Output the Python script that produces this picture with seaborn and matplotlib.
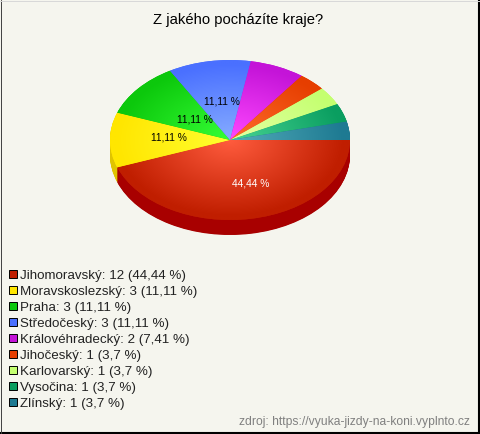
import numpy as np
import seaborn as sns
import matplotlib
matplotlib.use('Agg')
import matplotlib.pyplot as plt
from matplotlib.colors import LinearSegmentedColormap, to_rgb
from matplotlib.lines import Line2D
from matplotlib.patches import Patch

categories = ['Jihomoravský', 'Moravskoslezský', 'Praha', 'Středočeský', 'Královéhradecký',
              'Jihočeský', 'Karlovarský', 'Vysočina', 'Zlínský']
counts = [12, 3, 3, 3, 2, 1, 1, 1, 1]
percents = ['44,44', '11,11', '11,11', '11,11', '7,41', '3,7', '3,7', '3,7', '3,7']
edge_colors = ['#c01e00', '#ffe600', '#0cc80c', '#4a70ff', '#c414d8', '#e63e00', '#c4ff70', '#0a9e60', '#1e7a92']
centre_colors = ['#ff5c3e', '#ffff30', '#36ff36', '#86acff', '#ff48ff', '#ff6c2c', '#e4ffa4', '#48d494', '#54acba']

# pixel layout of the pie inside the 480x434 picture
W, H = 480, 434
CX, CY, RX, RY, DEPTH = 230, 140, 120, 80, 15
BG = '#f5f5ee'

sns.set_theme(style='white')
plt.rcParams['font.family'] = ['Liberation Sans', 'DejaVu Sans']

fig = plt.figure(figsize=(W / 100, H / 100), dpi=100, facecolor=BG)
ax = fig.add_axes([0, 0, 1, 1])
ax.set_facecolor(BG)

palette = sns.color_palette(edge_colors)
side_colors = [tuple(c * 0.87 for c in col) for col in palette]
side_colors[0] = to_rgb('#a80000')
side_colors[1] = to_rgb('#e0c400')
no_edge = {'linewidth': 0, 'edgecolor': 'none'}

# side of the pie: stacked copies moving down
for step in np.arange(DEPTH, 0, -0.5):
    ax.pie(counts, colors=side_colors, startangle=0, counterclock=False, center=(0, -step / RY),
           wedgeprops=no_edge)

wedges, _ = ax.pie(counts, colors=palette, startangle=0, counterclock=False, wedgeprops=no_edge)

# radial gradient on the top face
gx, gy = np.meshgrid(np.linspace(-1, 1, 300), np.linspace(-1, 1, 300))
dist = np.clip(np.hypot(gx, gy), 0, 1)
for wedge, light, dark in zip(wedges, centre_colors, palette):
    cmap = LinearSegmentedColormap.from_list('w', [light, dark])
    im = ax.imshow(dist, extent=(-1, 1, -1, 1), origin='lower', cmap=cmap, vmin=0, vmax=0.95,
                   aspect='auto', interpolation='bilinear', zorder=wedge.get_zorder() + 1)
    im.set_clip_path(wedge)

ax.set_aspect('auto')
ax.set_xlim(-CX / RX, (W - CX) / RX)
ax.set_ylim((CY - H) / RY, CY / RY)
ax.axis('off')

# slice labels, only the four largest slices have one
label_px = [(251, 183), (169, 137), (195, 119), (222, 102)]
label_colors = ['white', 'black', 'black', 'black']
for pct, (px, py), col in zip(percents, label_px, label_colors):
    ax.text((px - CX) / RX, (CY - py) / RY, f'{pct} %', color=col, fontsize=7.4,
            ha='center', va='center', zorder=20)

fig.text(238 / W, 1 - 20 / H, 'Z jakého pocházíte kraje?', ha='center', va='center', fontsize=10.6, color='black')
fig.text(470 / W, 1 - 422 / H, 'zdroj: https://vyuka-jizdy-na-koni.vyplnto.cz', ha='right', va='center',
         fontsize=8.7, color='#808080')

handles = [Patch(facecolor=c, edgecolor='black', linewidth=0.7) for c in palette]
labels = [f'{n}: {c} ({p} %)' for n, c, p in zip(categories, counts, percents)]
fig.legend(handles, labels, loc='upper left', bbox_to_anchor=(9 / W, 1 - 269.5 / H), frameon=False,
           fontsize=9.6, handlelength=0.62, handleheight=0.62, handletextpad=0.18,
           labelspacing=0.3, borderpad=0, borderaxespad=0, labelcolor='#222222')

# picture frame: heavy on the right and bottom, thin on the left, faint on top
fig.add_artist(Line2D([479 / W, 479 / W], [0, 1], color='black', linewidth=1.5))
fig.add_artist(Line2D([0, 1], [1 / H, 1 / H], color='black', linewidth=1.5))
fig.add_artist(Line2D([0.5 / W, 0.5 / W], [0, 1], color='#404040', linewidth=0.7))
fig.add_artist(Line2D([0, 1], [1 - 0.5 / H, 1 - 0.5 / H], color='#d8d8d8', linewidth=0.7))

fig.savefig('out.png', dpi=100, facecolor=BG)
